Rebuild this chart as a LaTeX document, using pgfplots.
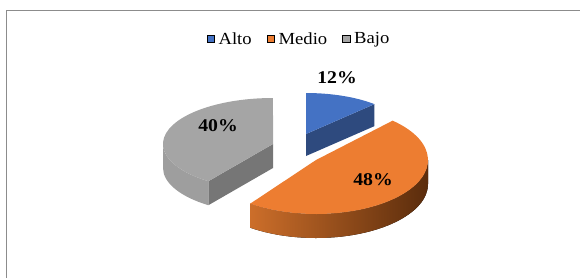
\documentclass[border=0pt]{standalone}
\usepackage{pgfplots}
\pgfplotsset{compat=1.18}
\usepackage{pgfplotstable}
\usepackage{fontspec}
\setmainfont{Liberation Serif}[FakeStretch=1.1]

\definecolor{cAlto}{HTML}{4472C4}
\definecolor{cAltoD}{HTML}{2E4A7E}
\definecolor{cMedio}{HTML}{ED7D31}
\definecolor{cMedioL}{HTML}{CC6E2A}
\definecolor{cMedioD}{HTML}{5A2C0C}
\definecolor{cBajo}{HTML}{A5A5A5}
\definecolor{cBajoD}{HTML}{767676}
\definecolor{cBajoW}{HTML}{9E9E9E}
\definecolor{cFrame}{HTML}{8C8C8C}

\pgfplotstableread{
label value
Alto 12
Medio 48
Bajo 40
}\piedata

\pgfplotstablegetelem{0}{value}\of\piedata \let\vA\pgfplotsretval
\pgfplotstablegetelem{1}{value}\of\piedata \let\vB\pgfplotsretval
\pgfplotstablegetelem{2}{value}\of\piedata \let\vC\pgfplotsretval
\pgfmathsetmacro\total{\vA+\vB+\vC}
\pgfmathsetmacro\aA{90}
\pgfmathsetmacro\aB{\aA-3.6*(\vA/\total*100)}
\pgfmathsetmacro\aC{\aB-3.6*(\vB/\total*100)}
\pgfmathsetmacro\aD{\aC-3.6*(\vC/\total*100)}

% #1 cx, #2 cy, #3 rx, #4 ry, #5 a1, #6 a2, #7 style
\newcommand\slicetop[7]{%
 \fill[#7] (axis cs:#1,#2) -- (axis cs:{#1+#3*cos(#5)},{#2-#4*sin(#5)})
   arc[start angle=#5, end angle=#6, x radius=#3*1bp, y radius=#4*1bp] -- cycle;}
% #1 cx, #2 cy, #3 rx, #4 ry, #5 angle, #6 h, #7 style
\newcommand\slicecut[7]{%
 \fill[#7] (axis cs:#1,#2) -- (axis cs:{#1+#3*cos(#5)},{#2-#4*sin(#5)})
   -- (axis cs:{#1+#3*cos(#5)},{#2-#4*sin(#5)+#6}) -- (axis cs:#1,{#2+#6}) -- cycle;}
% #1 cx, #2 cy, #3 rx, #4 ry, #5 a1, #6 a2, #7 h, #8 style
\newcommand\slicewall[8]{%
 \fill[#8] (axis cs:{#1+#3*cos(#5)},{#2-#4*sin(#5)})
   arc[start angle=#5, end angle=#6, x radius=#3*1bp, y radius=#4*1bp]
   -- (axis cs:{#1+#3*cos(#6)},{#2-#4*sin(#6)+#7})
   arc[start angle=#6, end angle=#5, x radius=#3*1bp, y radius=#4*1bp] -- cycle;}

\begin{document}
\begin{tikzpicture}
\begin{axis}[
  name=ax,
  x=1bp, y=1bp,
  xmin=0, xmax=580, ymin=0, ymax=278,
  y dir=reverse,
  hide axis, clip=false,
  legend columns=3,
  legend style={at={(axis cs:300,39)}, anchor=center, draw=none, fill=none,
    font=\fontsize{17}{17}\selectfont,
    nodes={inner xsep=4bp, inner ysep=0bp},
    /tikz/every even column/.append style={column sep=11bp}},
  legend image code/.code={\fill[#1] (0bp,-3.5bp) rectangle (7.5bp,3.5bp);},
]
\addlegendimage{fill=cAlto}\addlegendentry{Alto}
\addlegendimage{fill=cMedio}\addlegendentry{Medio}
\addlegendimage{fill=cBajo}\addlegendentry{Bajo}

% frame
\draw[cFrame, line width=1.5bp] (axis cs:6.5,278) -- (axis cs:6.5,10.5) -- (axis cs:580,10.5);

% Bajo (gray)
\slicecut{273}{144}{110}{46}{\aC}{24}{cBajoD}
\slicewall{273}{144}{110}{46}{\aC}{-180}{24}{cBajoW}
\slicetop{273}{144}{110}{46}{\aC}{\aD}{cBajo}
% Alto (blue)
\slicecut{306}{134}{100}{41}{\aB}{22}{cAltoD}
\slicetop{306}{134}{100}{41}{\aA}{\aB}{cAlto}
% Medio (orange)
\slicewall{316}{160}{112}{54}{\aC}{0}{24}{left color=cMedioL, right color=cMedioD}
\slicetop{316}{160}{112}{54}{\aB}{\aC}{cMedio}

\node[font=\bfseries\fontsize{18}{18}\selectfont] at (axis cs:337,78) {12\%};
\node[font=\bfseries\fontsize{18}{18}\selectfont] at (axis cs:218,125.5) {40\%};
\node[font=\bfseries\fontsize{18}{18}\selectfont] at (axis cs:373,179.5) {48\%};
\end{axis}
\pgfresetboundingbox
\path (ax.south west) rectangle (ax.north east);
\end{tikzpicture}
\end{document}
